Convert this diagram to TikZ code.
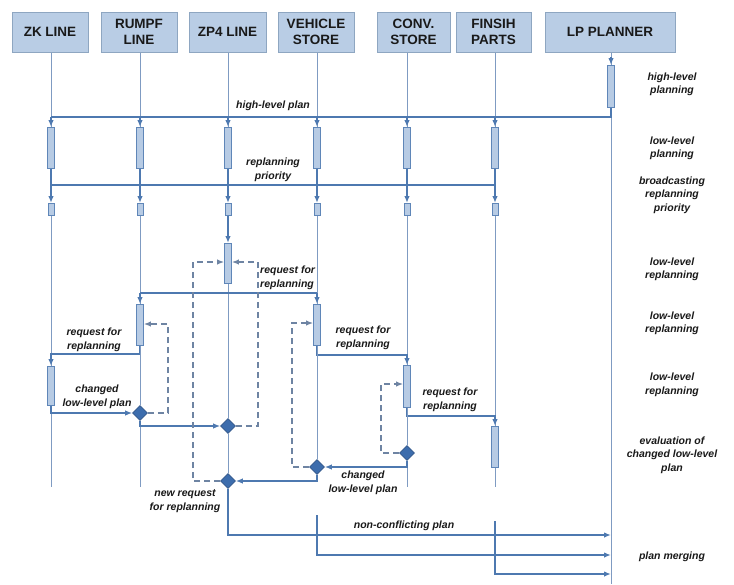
\documentclass[tikz,border=0pt]{standalone}
\usepackage{fontspec}
\setmainfont{Liberation Sans}
\usetikzlibrary{arrows.meta,shapes.geometric,calc}

\definecolor{hdrfill}{HTML}{B9CDE5}
\definecolor{hdrline}{HTML}{8EA6C1}
\definecolor{flow}{HTML}{4E79B0}
\definecolor{life}{HTML}{7F9BC2}
\definecolor{actfill}{HTML}{B7CBE4}
\definecolor{actline}{HTML}{5F86B8}
\definecolor{dia}{HTML}{3D6DAD}
\definecolor{dashc}{HTML}{6E84A3}

\tikzset{
  hdr/.style={draw=hdrline, line width=1pt, fill=hdrfill, minimum height=40pt,
    align=center, inner sep=0pt, text=black!90,
    font=\fontsize{13.5}{16}\selectfont\bfseries},
  act/.style={draw=actline, fill=actfill, line width=0.8pt, minimum width=7pt, inner sep=0pt},
  lifeln/.style={draw=life, line width=0.8pt},
  msg/.style={draw=flow, line width=1.5pt},
  tip/.style={-{Latex[length=7pt,width=5.5pt]}},
  dec/.style={diamond, fill=dia, draw=dia!80!black, line width=0.6pt,
    minimum width=15pt, minimum height=15pt, inner sep=0pt},
  req/.style={draw=dashc, line width=1.3pt, dash pattern=on 6pt off 4pt},
  lbl/.style={font=\fontsize{10.5}{13.5}\selectfont\bfseries\itshape,
    align=center, inner sep=0pt, text=black!90},
}

\begin{document}
\begin{tikzpicture}[x=1pt, y=-1pt]
\fill[white] (0,0) rectangle (734,584);
\useasboundingbox (0,0) rectangle (734,584);

% header boxes
\node[hdr, minimum width=76pt]  (zk) at (50,32)    {ZK LINE};
\node[hdr, minimum width=76pt]  (ru) at (139,32)   {RUMPF\\LINE};
\node[hdr, minimum width=77pt]  (zp) at (227.5,32) {ZP4 LINE};
\node[hdr, minimum width=76pt]  (ve) at (316,32)   {VEHICLE\\STORE};
\node[hdr, minimum width=73pt]  (co) at (413.5,32) {CONV.\\STORE};
\node[hdr, minimum width=75pt]  (fi) at (493.5,32) {FINSIH\\PARTS};
\node[hdr, minimum width=130pt] (lp) at (610,32)   {LP PLANNER};

% activation bars
\node[act, anchor=north, minimum height=42pt] (lp0) at (611,65) {};
\foreach \n/\x in {zk/51, ru/140, zp/228, ve/317, co/407, fi/495} {
  \node[act, anchor=north, minimum height=41pt] (\n1) at (\x,127) {};
  \node[act, anchor=north, minimum height=12pt, minimum width=6pt] (\n2) at (\x,203) {};
}
\node[act, anchor=north, minimum height=40pt] (zp3) at (228,243) {};
\node[act, anchor=north, minimum height=41pt] (ru3) at (140,304) {};
\node[act, anchor=north, minimum height=41pt] (ve3) at (317,304) {};
\node[act, anchor=north, minimum height=39pt] (zk3) at (51,366) {};
\node[act, anchor=north, minimum height=42pt] (co3) at (407,365) {};
\node[act, anchor=north, minimum height=41pt] (fi3) at (495,426) {};

% decision points
\node[dec] (dRU)  at (140,413) {};
\node[dec] (dZP1) at (228,426) {};
\node[dec] (dZP2) at (228,481) {};
\node[dec] (dVE)  at (317,467) {};
\node[dec] (dCO)  at (407,453) {};

% reference levels
\coordinate (hl) at (0,117);
\coordinate (bc) at (0,185);
\coordinate (r1) at (0,293);
\coordinate (r2) at (0,354);
\coordinate (r3) at (0,355);
\coordinate (r4) at (0,416);
\coordinate (m1) at (0,535);
\coordinate (m2) at (0,555);
\coordinate (m3) at (0,574);
\coordinate (zkEnd) at (51,487);
\coordinate (ruEnd) at (140,487);
\coordinate (coEnd) at (407,487);
\coordinate (fiEnd) at (495,487);
\coordinate (lpEnd) at (611,584);
\coordinate (ve4) at (317,515);
\coordinate (fi4) at (495,521);
\coordinate (rq1) at (168,324);
\coordinate (rq2) at (258,262);
\coordinate (rq3) at (193,262);
\coordinate (rq4) at (292,323);
\coordinate (rq5) at (381,384);

% lifelines from the headers
\foreach \n in {zk, ru, zp, ve, co, fi}
  \draw[lifeln] (\n1 |- \n.south) -- (\n1.north);
\draw[lifeln] (lp0 |- lp.south) -- (lp0.north);
\draw[msg, tip] ($(lp0.north)+(0,-8)$) -- (lp0.north);
\draw[lifeln] (lp0.south) -- (lpEnd);

% high-level plan
\draw[msg] (lp0.south) |- (zk1 |- hl);
\foreach \n in {zk, ru, zp, ve, co, fi}
  \draw[msg, tip] (\n1 |- hl) -- (\n1.north);

% broadcasting replanning priority
\foreach \n in {zk, ru, zp, ve, co}
  \draw[msg] (\n1.south) -- (\n1 |- bc);
\draw[msg] (fi1.south) |- (zk1 |- bc);
\foreach \n in {zk, ru, zp, ve, co, fi}
  \draw[msg, tip] (\n1 |- bc) -- (\n2.north);

% lifelines below the priority bars
\draw[lifeln] (zk2.south) -- (zk3.north);
\draw[lifeln] (ru2.south) -- (ru3.north);
\draw[msg, tip] (zp2.south) -- (zp3.north);
\draw[lifeln] (ve2.south) -- (ve3.north);
\draw[lifeln] (co2.south) -- (co3.north);
\draw[lifeln] (fi2.south) -- (fi3.north);

% ZP4 line requests replanning
\draw[lifeln] (zp3.south) -- (dZP1.north);
\draw[lifeln, line width=1pt] (dZP1.south) -- (dZP2.north);
\draw[msg] (ru3 |- r1) -- (ve3 |- r1);
\draw[msg, tip] (ru3 |- r1) -- (ru3.north);
\draw[msg, tip] (ve3 |- r1) -- (ve3.north);

% RUMPF line requests replanning of ZK line
\draw[msg, tip] (ru3.south) |- (zk3 |- r2) -- (zk3.north);
\draw[lifeln] (ru3.south) -- (dRU.north);
\draw[lifeln] (dRU.south) -- (ruEnd);

% vehicle store requests replanning of conv. store
\draw[msg, tip] (ve3.south) |- (co3 |- r3) -- (co3.north);
\draw[lifeln, line width=1pt] (ve3.south) -- (dVE.north);

% conv. store requests replanning of finish parts
\draw[msg, tip] (co3.south) |- (fi3 |- r4) -- (fi3.north);
\draw[lifeln, line width=1pt] (co3.south) -- (dCO.north);
\draw[lifeln] (dCO.south) -- (coEnd);
\draw[lifeln] (fi3.south) -- (fiEnd);

% changed low-level plans
\draw[lifeln] (zk3.south) -- (zkEnd);
\draw[msg, tip] (zk3.south) |- (dRU.west);
\draw[msg, tip] (dRU.south) |- (dZP1.west);
\draw[msg, tip] (dCO.south) |- (dVE.east);
\draw[msg, tip] (dVE.south) |- (dZP2.east);

% new requests for replanning
\draw[req, tip] (dRU.east) -| (rq1) -- (ru3.east |- rq1);
\draw[req, tip] (dZP1.east) -| (rq2) -- (zp3.east |- rq2);
\draw[req, tip] (dZP2.west) -| (rq3) -- (zp3.west |- rq3);
\draw[req, tip] (dVE.west) -| (rq4) -- (ve3.west |- rq4);
\draw[req, tip] (dCO.west) -| (rq5) -- (co3.west |- rq5);

% plan merging
\draw[msg, tip] (dZP2.south) |- (lp0 |- m1);
\draw[msg, tip] (ve4) |- (lp0 |- m2);
\draw[msg, tip] (fi4) |- (lp0 |- m3);

% message labels
\node[lbl] (tHl)  at (273,106) {high-level plan};
\node[lbl] (tRp)  at (273,170) {replanning\\priority};
\node[lbl, anchor=west, align=left] (tRq1) at (260,278) {request for\\replanning};
\node[lbl] (tRq2) at (94,340)  {request for\\replanning};
\node[lbl] (tCh1) at (97,397)  {changed\\low-level plan};
\node[lbl] (tRq3) at (363,338) {request for\\replanning};
\node[lbl] (tRq4) at (450,400) {request for\\replanning};
\node[lbl] (tCh2) at (363,483) {changed\\low-level plan};
\node[lbl] (tNr)  at (185,501) {new request\\for replanning};
\node[lbl] (tNc)  at (404,526) {non-conflicting plan};

% phase labels
\node[lbl] (pA) at (672,84.5)  {high-level\\planning};
\node[lbl] (pB) at (672,148.5) {low-level\\planning};
\node[lbl] (pC) at (672,195)   {broadcasting\\replanning\\priority};
\node[lbl] (pD) at (672,269.5) {low-level\\replanning};
\node[lbl] (pE) at (672,323.5) {low-level\\replanning};
\node[lbl] (pF) at (672,385)   {low-level\\replanning};
\node[lbl] (pG) at (672,455)   {evaluation of\\changed low-level\\plan};
\node[lbl] (pH) at (672,557)   {plan merging};
\end{tikzpicture}
\end{document}
